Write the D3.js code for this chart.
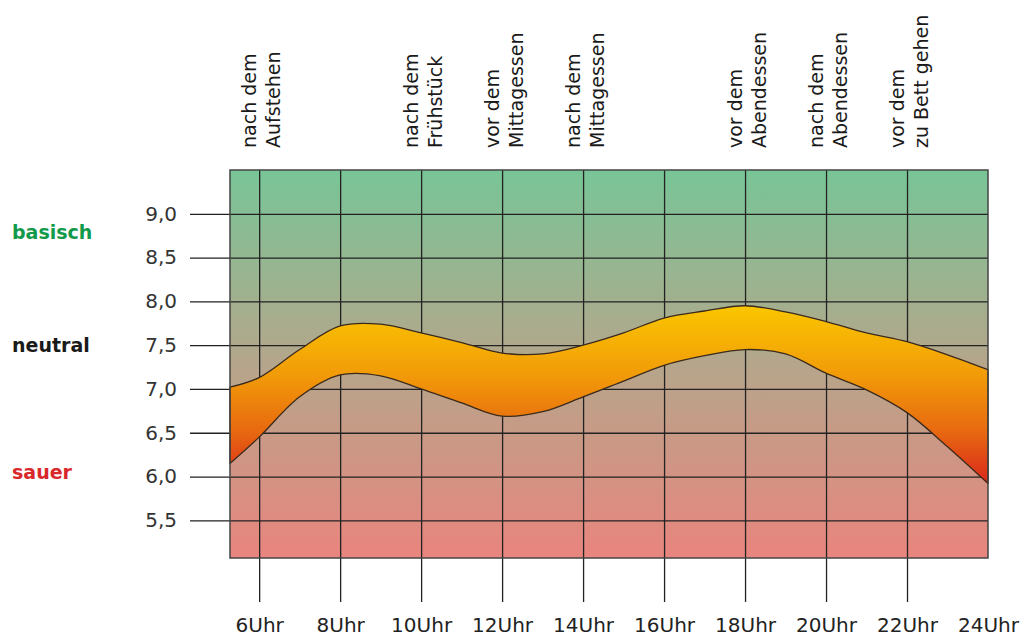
<!DOCTYPE html>
<html lang="de">

<head>
	<meta charset="UTF-8">
	<title>pH-Wert im Tagesverlauf</title>
	<script type="text/javascript" src="https://cdn.jsdelivr.net/npm/d3@7/dist/d3.min.js" charset="UTF-8"></script>
	<style>
		body { margin: 0; background: #fff; }
		svg { display: block; font-family: "DejaVu Sans", Verdana, sans-serif; }
	</style>
</head>

<body>
	<script type="text/javascript">
	// Stunden der Messpunkte (5.28 = linker Rand des Diagramms)
	let hours = [5.28, 6, 7, 8, 9, 10, 11, 12, 13, 14, 15, 16, 17, 18, 19, 20, 21, 22, 23, 24]
	let upper = [7.02, 7.13, 7.45, 7.72, 7.74, 7.64, 7.53, 7.41, 7.40, 7.50, 7.64, 7.81, 7.89, 7.95, 7.88, 7.77, 7.64, 7.54, 7.39, 7.22]
	let lower = [6.15, 6.45, 6.91, 7.16, 7.15, 7.00, 6.84, 6.69, 6.74, 6.91, 7.09, 7.27, 7.38, 7.45, 7.40, 7.18, 6.99, 6.73, 6.34, 5.92]

	let hourTicks = [6, 8, 10, 12, 14, 16, 18, 20, 22, 24]
	let phTicks = [5.5, 6.0, 6.5, 7.0, 7.5, 8.0, 8.5, 9.0]

	let eventHours = [6, 10, 12, 14, 18, 20, 22]
	let eventLabels = [
		['nach dem', 'Aufstehen'],
		['nach dem', 'Frühstück'],
		['vor dem', 'Mittagessen'],
		['nach dem', 'Mittagessen'],
		['vor dem', 'Abendessen'],
		['nach dem', 'Abendessen'],
		['vor dem', 'zu Bett gehen']
	]

	let zoneLabels = ['basisch', 'neutral', 'sauer']
	let zoneValues = [8.79, 7.5, 6.05]
	let zoneColors = ['#129a4a', '#1a1a1a', '#d9282b']

	let width = 1023,
		height = 639;
	let plot = { left: 230, right: 988, top: 170, bottom: 558 }

	let svg = d3.select('body').append('svg')
		.attr('width', width)
		.attr('height', height)

	let x = d3.scaleLinear()
		.domain([5.28, 24])
		.range([plot.left, plot.right])

	let y = d3.scaleLinear()
		.domain([5.07, 9.5])
		.range([plot.bottom, plot.top])

	let defs = svg.append('defs')

	let bg = defs.append('linearGradient')
		.attr('id', 'bg')
		.attr('x1', 0).attr('y1', 0).attr('x2', 0).attr('y2', 1)
	bg.append('stop').attr('offset', '0%').attr('stop-color', '#78c597')
	bg.append('stop').attr('offset', '48%').attr('stop-color', '#b3a78b')
	bg.append('stop').attr('offset', '100%').attr('stop-color', '#e9857e')

	let bandGrad = defs.append('linearGradient')
		.attr('id', 'band')
		.attr('x1', 0).attr('y1', 0).attr('x2', 0).attr('y2', 1)
	bandGrad.append('stop').attr('offset', '0%').attr('stop-color', '#fac600')
	bandGrad.append('stop').attr('offset', '38%').attr('stop-color', '#f29c08')
	bandGrad.append('stop').attr('offset', '70%').attr('stop-color', '#e86a10')
	bandGrad.append('stop').attr('offset', '100%').attr('stop-color', '#da281c')

	svg.append('rect')
		.attr('x', plot.left)
		.attr('y', plot.top)
		.attr('width', plot.right - plot.left)
		.attr('height', plot.bottom - plot.top)
		.attr('fill', 'url(#bg)')

	/* pH axis with grid lines */
	let yAxis = d3.axisLeft(y)
		.tickValues(phTicks)
		.tickSize(-(plot.right - 190))
		.tickPadding(13)
		.tickFormat(d => d3.format('.1f')(d).replace('.', ','))

	let gy = svg.append('g')
		.attr('transform', 'translate(190,0)')
		.call(yAxis)
	gy.select('.domain').remove()
	gy.selectAll('line').attr('stroke', '#222').attr('stroke-width', 1.3)
	gy.selectAll('text')
		.attr('fill', '#333')
		.style('font-size', '20px')
		.style('font-family', '"DejaVu Sans", Verdana, sans-serif')

	/* hour axis */
	let xAxis = d3.axisBottom(x)
		.tickValues(hourTicks)
		.tickSize(432)
		.tickPadding(16)
		.tickFormat(d => d + 'Uhr')

	let gx = svg.append('g')
		.attr('transform', `translate(0,${plot.top})`)
		.call(xAxis)
	gx.select('.domain').remove()
	gx.selectAll('line').attr('stroke', '#222').attr('stroke-width', 1.3)
	gx.selectAll('.tick').filter(d => d === 24).select('line').remove()
	gx.selectAll('text')
		.attr('fill', '#222')
		.style('font-size', '20px')
		.style('font-family', '"DejaVu Sans", Verdana, sans-serif')

	/* pH band */
	let bandData = hours.map((h, i) => ({ h: h, hi: upper[i], lo: lower[i] }))

	let area = d3.area()
		.x(d => x(d.h))
		.y0(d => y(d.lo))
		.y1(d => y(d.hi))
		.curve(d3.curveCatmullRom.alpha(0.5))

	svg.append('path')
		.datum(bandData)
		.attr('d', area)
		.attr('fill', 'url(#band)')
		.attr('stroke', '#3a2a1c')
		.attr('stroke-width', 1.3)
		.attr('stroke-linejoin', 'round')

	svg.append('rect')
		.attr('x', plot.left)
		.attr('y', plot.top)
		.attr('width', plot.right - plot.left)
		.attr('height', plot.bottom - plot.top)
		.attr('fill', 'none')
		.attr('stroke', '#444')
		.attr('stroke-width', 1.5)

	/* event labels on top */
	let ev = svg.selectAll('.event')
		.data(eventHours)
		.enter()
		.append('text')
		.attr('class', 'event')
		.attr('transform', d => `translate(${x(d) - 3},148) rotate(-90)`)
		.attr('fill', '#1a1a1a')
		.style('font-size', '19px')

	ev.selectAll('tspan')
		.data((d, i) => eventLabels[i])
		.enter()
		.append('tspan')
		.attr('x', 0)
		.attr('dy', (d, i) => i === 0 ? 0 : 24)
		.text(d => d)

	/* zone labels */
	svg.selectAll('.zone')
		.data(zoneLabels)
		.enter()
		.append('text')
		.attr('class', 'zone')
		.attr('x', 12)
		.attr('y', (d, i) => y(zoneValues[i]))
		.attr('dy', '0.35em')
		.attr('fill', (d, i) => zoneColors[i])
		.style('font-size', '19px')
		.style('font-weight', 'bold')
		.text(d => d)
	</script>
</body>

</html>
